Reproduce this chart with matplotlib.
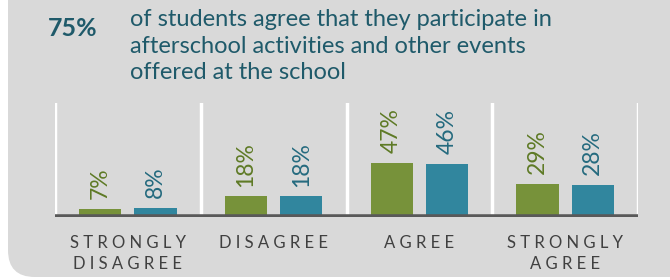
import matplotlib
matplotlib.use("Agg")
import matplotlib.pyplot as plt
from matplotlib.patches import FancyBboxPatch

categories = ["STRONGLY\nDISAGREE", "DISAGREE", "AGREE", "STRONGLY\nAGREE"]
series_a = [7, 18, 47, 29]   # green
series_b = [8, 18, 46, 28]   # blue
headline_value = "75%"
headline_text = ("of students agree that they participate in\n"
                 "afterschool activities and other events\n"
                 "offered at the school")

FONT = "Lato"
BG = "#d9d9d9"
GREEN = "#77923a"
BLUE = "#31869e"
GREEN_TXT = "#5e7a25"
BLUE_TXT = "#246a7e"
TITLE_C = "#1f5a6a"

W, H = 670, 280
fig = plt.figure(figsize=(W / 100, H / 100), dpi=100)
fig.patch.set_facecolor("white")

box = FancyBboxPatch((8 / W, 3 / H), (W + 40) / W, (H + 40) / H,
                     boxstyle="round,pad=0,rounding_size=0.04",
                     transform=fig.transFigure, facecolor=BG, edgecolor="none",
                     mutation_aspect=W / H, zorder=-10)
fig.patches.append(box)

fig.text(48 / W, 1 - 28 / H, headline_value, fontsize=18, fontweight="bold",
         color=TITLE_C, family=FONT, va="center", ha="left")
fig.text(130 / W, 1 - 9 / H, headline_text, fontsize=17, color=TITLE_C,
         family=FONT, va="top", ha="left", linespacing=1.33)

ax = fig.add_axes([55 / W, 63 / H, (638 - 55) / W, (177 - 63) / H])
ax.set_facecolor("none")
ax.set_xlim(0, len(categories))
ax.set_ylim(0, 99)
for s in ax.spines.values():
    s.set_visible(False)
ax.set_xticks([])
ax.set_yticks([])

for i in range(len(categories) + 1):
    ax.axvline(i, color="white", lw=2.5, zorder=1)
ax.axhline(0, color="#595959", lw=4, zorder=3, xmin=0, xmax=1)

off, w = 0.19, 0.29
for i, (a, b) in enumerate(zip(series_a, series_b)):
    c = i + 0.5
    ax.bar(c - off, a, width=w, color=GREEN, zorder=2)
    ax.bar(c + off, b, width=w, color=BLUE, zorder=2)
    ax.annotate(f"{a}%", (c - off, a), xytext=(0, 7), textcoords="offset points",
                rotation=90, ha="center", va="bottom", fontsize=16.5,
                color=GREEN_TXT, family=FONT)
    ax.annotate(f"{b}%", (c + off, b), xytext=(0, 7), textcoords="offset points",
                rotation=90, ha="center", va="bottom", fontsize=16.5,
                color=BLUE_TXT, family=FONT)

for i, cat in enumerate(categories):
    spaced = "\n".join(" ".join(line) for line in cat.split("\n"))
    ax.text(i + 0.5, -0.16, spaced, transform=ax.get_xaxis_transform(),
            ha="center", va="top", fontsize=12, color="#404040",
            family=FONT, linespacing=1.38)

fig.savefig("out.png", dpi=100, facecolor=fig.get_facecolor())
